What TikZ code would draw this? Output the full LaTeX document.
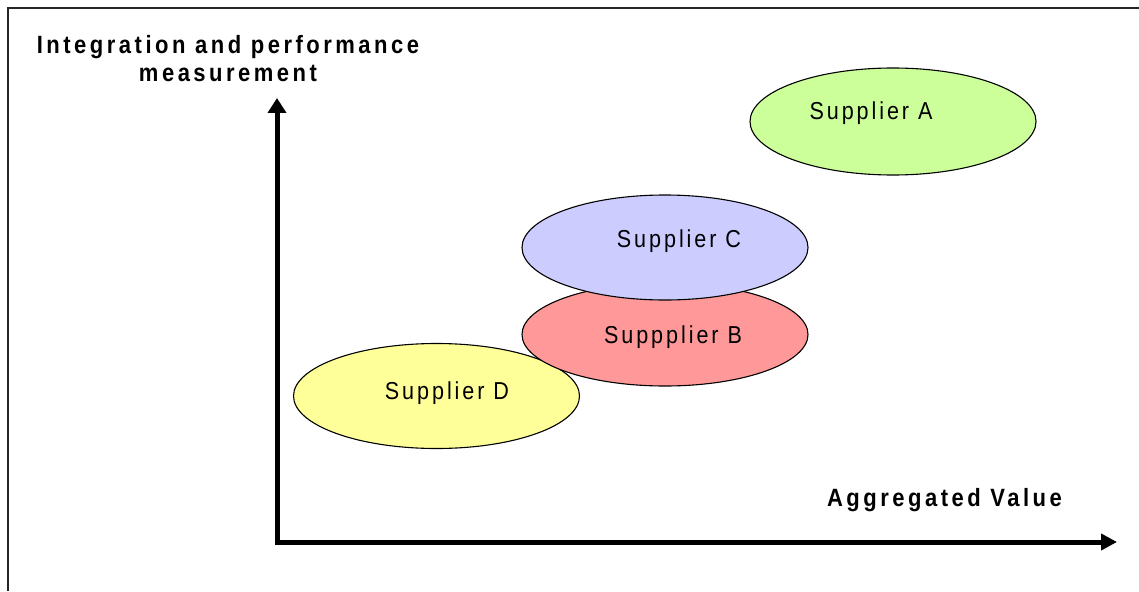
\documentclass[tikz,border=0pt]{standalone}
\usepackage{fontspec}
\setmainfont{Liberation Sans}
\newfontfamily\axisfont[LetterSpace=14,FakeStretch=0.88]{Liberation Sans Bold}
\newfontfamily\labfont[LetterSpace=12,FakeStretch=0.88]{Liberation Sans}
\usetikzlibrary{arrows.meta,shapes.geometric}
\definecolor{fillA}{HTML}{CCFF99}
\definecolor{fillB}{HTML}{FF9999}
\definecolor{fillC}{HTML}{CCCCFF}
\definecolor{fillD}{HTML}{FFFF99}
\tikzset{
  frameline/.style={line width=1.5pt, draw=black!85},
  axisline/.style={line width=5pt, line join=miter,
    {Triangle[length=15pt,width=18pt]}-{Triangle[length=16pt,width=16pt]}},
  supp/.style={ellipse, draw=black, line width=1.1pt, minimum width=286pt,
    minimum height=105pt, inner sep=0pt},
  supplab/.style={font=\labfont\fontsize{24.5}{26}\selectfont, anchor=base, inner sep=0pt},
  axislab/.style={font=\axisfont\fontsize{25}{28}\selectfont, anchor=base, inner sep=0pt, align=center}
}
\begin{document}
\begin{tikzpicture}[x=1pt,y=-1pt]
\useasboundingbox (0,0) rectangle (1139,591);
% frame
\coordinate (fbl) at (8,591);
\coordinate (ftl) at (8,8);
\coordinate (ftr) at (1139,8);
\draw[frameline] (fbl) -- (ftl) -- (ftr);
% ellipses
\node[supp, fill=fillD] (D) at (436.5,396) {};
\node[supp, fill=fillB, minimum height=103pt] (B) at (665,334.5) {};
\node[supp, fill=fillC] (C) at (665,247.5) {};
\node[supp, fill=fillA, minimum height=107pt] (A) at (893,121.5) {};
\node[supplab] (lA) at (871,120) {Supplier A};
\node[supplab] (lC) at (679,247) {Supplier C};
\node[supplab] (lB) at (673,343) {Suppplier B};
\node[supplab] (lD) at (447,399) {Supplier D};
% axes
\coordinate (ytip) at (277,98);
\coordinate (corner) at (277,542);
\coordinate (xtip) at (1117,542);
\draw[axisline] (ytip) -- (corner) -- (xtip);
\node[axislab] (ylab) at (228,81.5) {Integration and performance\\measurement};
\node[axislab] (xlab) at (944.5,506) {Aggregated Value};
\end{tikzpicture}
\end{document}
